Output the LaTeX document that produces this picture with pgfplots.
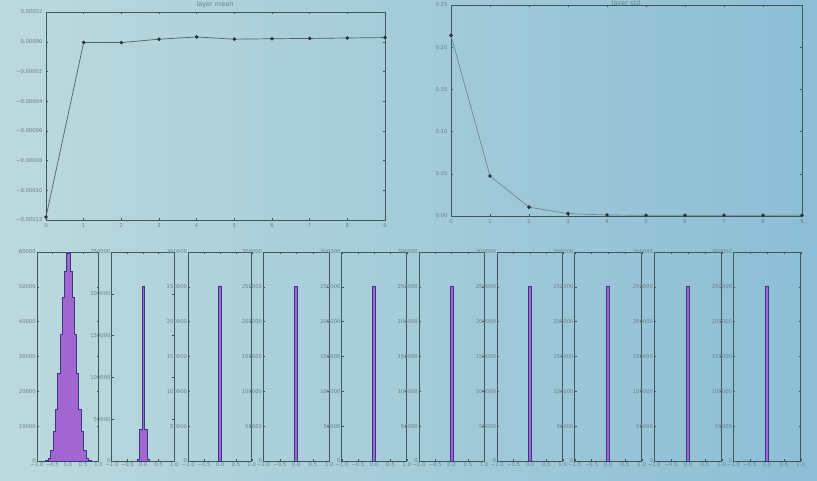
\documentclass[border=0pt]{standalone}
\usepackage{fontspec}
\setmainfont{DejaVu Sans}
\usepackage{pgfplots}
\pgfplotsset{compat=1.18}

\definecolor{bgL}{RGB}{188,217,221}
\definecolor{bgR}{RGB}{140,190,212}
\definecolor{frame}{RGB}{62,86,94}
\definecolor{lbl}{RGB}{105,128,136}
\definecolor{histfill}{RGB}{162,102,208}
\definecolor{histedge}{RGB}{58,56,132}

\pgfplotsset{
  base/.style={scale only axis, anchor=south west,
    axis line style={frame, line width=0.8pt},
    tick style={frame, line width=0.4pt}, major tick length=2pt, tick align=inside,
    ticklabel style={font=\fontsize{5.3}{6}\selectfont, text=lbl},
    /pgf/number format/assume math mode=true,
    /pgf/number format/fixed, /pgf/number format/1000 sep={},
    scaled ticks=false},
  hist/.style={base, height=209pt, xmin=-1, xmax=1, ymin=0,
    xtick={-1,-0.5,0,0.5,1}, xticklabels={−1.0,−0.5,0.0,0.5,1.0},
    xticklabel style={inner sep=1pt}, yticklabel style={inner sep=1pt}},
  wide/.style={hist, ymax=300000, ytick={0,50000,...,300000}},
  steps/.style={const plot, fill=histfill, draw=histedge, line width=0.9pt},
  bars/.style={ybar interval, fill=histfill, draw=histedge, line width=1pt},
}

\begin{document}
\begin{tikzpicture}
\shade[left color=bgL, right color=bgR] (0pt,0pt) rectangle (817pt,480pt);

% layer mean
\begin{axis}[base, at={(46pt,260pt)}, width=339pt, height=208pt,
  xmin=0, xmax=9, ymin=-0.00012, ymax=0.00002, xtick={0,...,9},
  ytick={-0.00012,-0.0001,-0.00008,-0.00006,-0.00004,-0.00002,0,0.00002},
  yticklabels={−0.00012,−0.00010,−0.00008,−0.00006,−0.00004,−0.00002,0.00000,0.00002}]
\addplot[color={rgb,255:red,80;green,96;blue,104}, line width=0.7pt, mark=*, mark size=1.4pt,
  mark options={fill={rgb,255:red,40;green,50;blue,60}, draw={rgb,255:red,40;green,50;blue,60}}]
  coordinates {(0,-0.000118) (1,-0.0000005) (2,-0.0000006) (3,0.0000017) (4,0.0000032)
    (5,0.0000017) (6,0.000002) (7,0.0000022) (8,0.0000025) (9,0.0000028)};
\end{axis}
\node[font=\fontsize{6.5}{7}\selectfont, text=lbl] at (215pt,475pt) {layer mean};

% layer std
\begin{axis}[base, at={(451pt,264pt)}, width=351pt, height=211pt,
  xmin=0, xmax=9, ymin=0, ymax=0.25, xtick={0,...,9},
  ytick={0,0.05,0.1,0.15,0.2,0.25},
  yticklabel style={/pgf/number format/precision=2, /pgf/number format/zerofill}]
\addplot[color={rgb,255:red,115;green,135;blue,143}, line width=0.7pt, mark=*, mark size=1.4pt,
  mark options={fill={rgb,255:red,40;green,50;blue,60}, draw={rgb,255:red,40;green,50;blue,60}}]
  coordinates {(0,0.214) (1,0.0473) (2,0.0105) (3,0.0028) (4,0.0012)
    (5,0.0008) (6,0.0008) (7,0.0008) (8,0.0009) (9,0.0009)};
\end{axis}
\node[font=\fontsize{6.5}{7}\selectfont, text=lbl] at (626pt,476pt) {layer std};

% histograms
\begin{axis}[hist, at={(37pt,19pt)}, width=61.6pt, ymax=60000, ytick={0,10000,...,60000}]
\addplot[steps] coordinates {(-0.72,100) (-0.64,700) (-0.56,3100) (-0.48,8500) (-0.40,14900)
  (-0.32,25100) (-0.24,36400) (-0.17,47000) (-0.11,54400) (-0.05,59500)
  (0.08,54400) (0.14,47000) (0.21,36400) (0.28,25100) (0.36,14900) (0.44,8500)
  (0.52,3100) (0.60,700) (0.68,100) (0.76,100)} \closedcycle;
\end{axis}
\begin{axis}[hist, at={(111.7pt,19pt)}, width=62.6pt, ymax=250000, ytick={0,50000,...,250000}]
\addplot[steps] coordinates {(-0.18,1500) (-0.11,38000) (-0.03,209000) (0.04,38000) (0.15,1500) (0.21,1500)} \closedcycle;
\end{axis}
\begin{axis}[wide, at={(188.3pt,19pt)}, width=63.4pt]
\addplot[bars] coordinates {(-0.04,250000) (0.05,250000)};
\end{axis}
\begin{axis}[wide, at={(263.3pt,19pt)}, width=66pt]
\addplot[bars] coordinates {(-0.04,250000) (0.05,250000)};
\end{axis}
\begin{axis}[wide, at={(341.7pt,19pt)}, width=65pt]
\addplot[bars] coordinates {(-0.04,250000) (0.05,250000)};
\end{axis}
\begin{axis}[wide, at={(419pt,19pt)}, width=65.3pt]
\addplot[bars] coordinates {(-0.04,250000) (0.05,250000)};
\end{axis}
\begin{axis}[wide, at={(497.3pt,19pt)}, width=65.4pt]
\addplot[bars] coordinates {(-0.04,250000) (0.05,250000)};
\end{axis}
\begin{axis}[wide, at={(574.7pt,19pt)}, width=67pt]
\addplot[bars] coordinates {(-0.04,250000) (0.05,250000)};
\end{axis}
\begin{axis}[wide, at={(654.3pt,19pt)}, width=67.4pt]
\addplot[bars] coordinates {(-0.04,250000) (0.05,250000)};
\end{axis}
\begin{axis}[wide, at={(733.3pt,19pt)}, width=67.4pt]
\addplot[bars] coordinates {(-0.04,250000) (0.05,250000)};
\end{axis}

\pgfresetboundingbox
\useasboundingbox (0pt,0pt) rectangle (817pt,480pt);
\end{tikzpicture}
\end{document}
